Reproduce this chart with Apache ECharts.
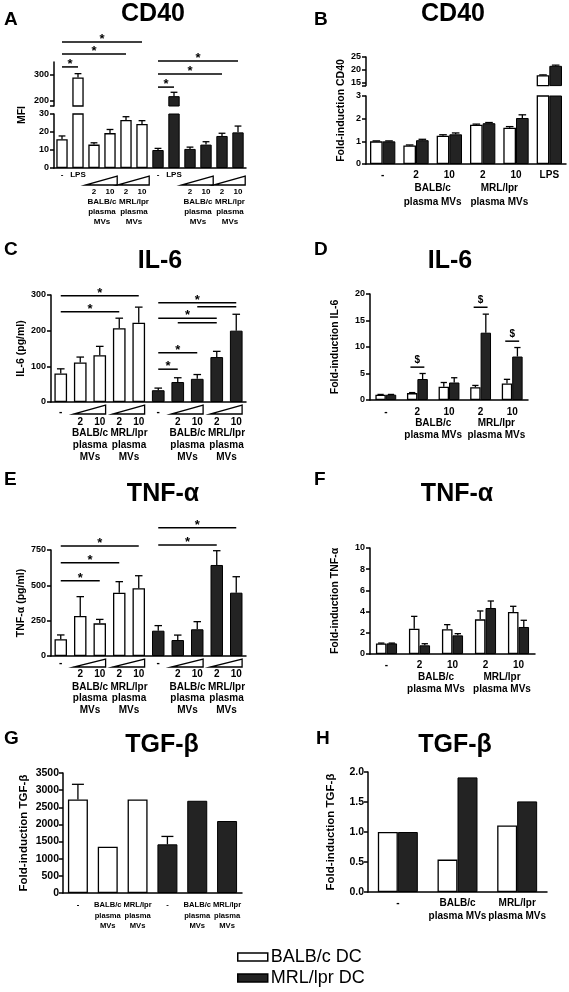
<!DOCTYPE html>
<html><head><meta charset="utf-8">
<script src="https://cdn.jsdelivr.net/npm/echarts@6/dist/echarts.min.js"></script>
<style>html,body{margin:0;padding:0;background:#fff}#c{width:569px;height:992px}</style>
</head><body><div id="c"></div>
<script>
// ================= DATA =================
// A — CD40 (MFI)
const aLabels = ['-', 'LPS', '2', '10', '2', '10', '-', 'LPS', '2', '10', '2', '10'];
const aBalb = [16, 290, 13, 19.4, 26.7, 24.5];
const aBalbErr = [1.8, 15, 1, 2, 1.8, 1.8];
const aMrl = [10, 218, 10.6, 13, 17.8, 19.8];
const aMrlErr = [0.9, 15, 1, 1.6, 1.5, 3.5];
const aGroupText = ['BALB/c\nplasma\nMVs', 'MRL/lpr\nplasma\nMVs', 'BALB/c\nplasma\nMVs', 'MRL/lpr\nplasma\nMVs'];
const aGroupCats = [[2, 3], [4, 5], [8, 9], [10, 11]];
const aSig = [[0, 1, 331], [0, 4, 381], [0, 5, 427], [6, 7, 253], [6, 10, 304], [6, 11, 354]];
const aSigText = ['*', '*', '*', '*', '*', '*'];
const aUpperTicks = [180, 200, 300];
const aUpperTickLabels = [200, 300];

// B — CD40 fold induction
const bLabels = ['-', '2', '10', '2', '10', 'LPS'];
const bBalb = [1.0, 0.82, 1.25, 1.73, 1.6, 18];
const bBalbErr = [0.02, 0.02, 0.04, 0.03, 0.05, 0.15];
const bMrl = [1.0, 1.05, 1.31, 1.8, 2.03, 21.6];
const bMrlErr = [0.02, 0.04, 0.06, 0.03, 0.14, 0.3];
const bGroupText = ['BALB/c\nplasma MVs', 'MRL/lpr\nplasma MVs'];
const bGroupCats = [[1, 2], [3, 4]];
const bUpperTicks = [14, 15, 20, 25];
const bUpperTickLabels = [15, 20, 25];

// C — IL-6 (pg/ml)
const cLabels = ['-', '2', '10', '2', '10', '-', '2', '10', '2', '10'];
const cBalb = [80, 111, 131, 207, 222];
const cBalbErr = [13, 15, 25, 28, 44];
const cMrl = [33, 56, 65, 126, 200];
const cMrlErr = [6, 12, 12, 16, 46];
const cGroupText = ['BALB/c\nplasma\nMVs', 'MRL/lpr\nplasma\nMVs', 'BALB/c\nplasma\nMVs', 'MRL/lpr\nplasma\nMVs'];
const cGroupCats = [[1, 2], [3, 4], [6, 7], [8, 9]];
const cSig = [[0, 4, 298], [0, 3, 253], [5, 9, 278], [7, 9, 267], [5, 8, 235], [6, 8, 222], [5, 7, 138], [5, 6, 92]];
const cSigText = ['*', '*', '*', '', '*', '', '*', '*'];

// D — IL-6 fold induction
const dLabels = ['-', '2', '10', '2', '10'];
const dBalb = [1, 1.3, 2.5, 2.4, 3.1];
const dBalbErr = [0.05, 0.1, 0.8, 0.35, 0.8];
const dMrl = [1, 3.96, 3.3, 12.7, 8.2];
const dMrlErr = [0.05, 1.04, 0.9, 3.5, 1.7];
const dGroupText = ['BALB/c\nplasma MVs', 'MRL/lpr\nplasma MVs'];
const dGroupCats = [[1, 2], [3, 4]];
const dSig = [[1, 1, 6.2], [3, 3, 17.5], [4, 4, 11.1]];
const dSigText = ['$', '$', '$'];

// E — TNF-α (pg/ml)
const eLabels = ['-', '2', '10', '2', '10', '-', '2', '10', '2', '10'];
const eBalb = [118, 283, 231, 448, 479];
const eBalbErr = [31, 137, 28, 78, 89];
const eMrl = [179, 113, 189, 644, 448];
const eMrlErr = [36, 35, 54, 101, 113];
const eGroupText = ['BALB/c\nplasma\nMVs', 'MRL/lpr\nplasma\nMVs', 'BALB/c\nplasma\nMVs', 'MRL/lpr\nplasma\nMVs'];
const eGroupCats = [[1, 2], [3, 4], [6, 7], [8, 9]];
const eSig = [[0, 2, 533], [0, 3, 660], [0, 4, 778], [5, 8, 786], [5, 9, 908]];
const eSigText = ['*', '*', '*', '*', '*'];

// F — TNF-α fold induction
const fLabels = ['-', '2', '10', '2', '10'];
const fBalb = [1, 2.39, 2.33, 3.27, 3.96];
const fBalbErr = [0.03, 1.16, 0.44, 0.79, 0.54];
const fMrl = [1, 0.82, 1.76, 4.34, 2.55];
const fMrlErr = [0.03, 0.15, 0.16, 0.66, 0.63];
const fGroupText = ['BALB/c\nplasma MVs', 'MRL/lpr\nplasma MVs'];
const fGroupCats = [[1, 2], [3, 4]];

// G — TGF-β
const gLabels = ['-', 'BALB/c\nplasma\nMVs', 'MRL/lpr\nplasma\nMVs', '-', 'BALB/c\nplasma\nMVs', 'MRL/lpr\nplasma\nMVs'];
const gBalb = [2730, 1350, 2730];
const gBalbErr = [440, null, null];
const gMrl = [1420, 2690, 2100];
const gMrlErr = [230, null, null];

// H — TGF-β fold induction
const hLabels = ['-', 'BALB/c\nplasma MVs', 'MRL/lpr\nplasma MVs'];
const hBalb = [1, 0.54, 1.11];
const hMrl = [1, 1.91, 1.51];

// ================= STYLE / BUILD =================
const FONT = '"Liberation Sans", Arial, Helvetica, sans-serif';
const INK = '#000';
const DARK = '#232323';
const WHITE_STYLE = { color: '#fff', borderColor: INK, borderWidth: 1.3 };
const BLACK_STYLE = { color: DARK, borderColor: INK, borderWidth: 1 };
const NAME_WHITE = 'BALB/c DC', NAME_BLACK = 'MRL/lpr DC';

const grids = [], xAxes = [], yAxes = [], series = [];

function addGrid(rect, cats, yOpt, opts) {
  opts = opts || {};
  const idx = grids.length;
  grids.push(Object.assign({ outerBoundsMode: 'none', containLabel: false }, rect));
  xAxes.push({
    gridIndex: idx, type: 'category', data: cats, show: opts.xShow !== false,
    axisLine: { show: true, onZero: false, lineStyle: { color: INK, width: 1.5 } },
    axisTick: { show: false }, axisLabel: { show: false }, splitLine: { show: false }
  });
  const y = {
    gridIndex: idx, type: 'value',
    axisLine: { show: opts.yLine !== false, lineStyle: { color: INK, width: 1.5 } },
    axisTick: { show: opts.yLine !== false, length: 4, lineStyle: { color: INK, width: 1.5 } },
    axisLabel: { show: opts.yLine !== false, color: INK, fontSize: 9, fontWeight: 'bold', fontFamily: FONT, margin: 5, formatter: v => String(v) },
    splitLine: { show: false },
    nameLocation: 'middle', nameRotate: 90,
    nameTextStyle: { color: INK, fontSize: 10.5, fontWeight: 'bold', fontFamily: FONT }
  };
  for (const k in yOpt) {
    if (k === 'axisTick' || k === 'axisLabel' || k === 'nameTextStyle') Object.assign(y[k], yOpt[k]);
    else y[k] = yOpt[k];
  }
  yAxes.push(y);
  return idx;
}

function barsSplit(gi, white, black, gap) {
  const w = white.concat(black.map(() => null));
  const b = white.map(() => null).concat(black);
  series.push({ type: 'bar', name: NAME_WHITE, xAxisIndex: gi, yAxisIndex: gi, data: w, barGap: '-100%', barCategoryGap: gap, itemStyle: WHITE_STYLE, silent: true, clip: true, z: 2 });
  series.push({ type: 'bar', name: NAME_BLACK, xAxisIndex: gi, yAxisIndex: gi, data: b, barGap: '-100%', barCategoryGap: gap, itemStyle: BLACK_STYLE, silent: true, clip: true, z: 2 });
}
function barsGroup(gi, white, black, gap) {
  series.push({ type: 'bar', name: NAME_WHITE, xAxisIndex: gi, yAxisIndex: gi, data: white, barGap: '0%', barCategoryGap: gap, itemStyle: WHITE_STYLE, silent: true, clip: true, z: 2 });
  series.push({ type: 'bar', name: NAME_BLACK, xAxisIndex: gi, yAxisIndex: gi, data: black, barGap: '0%', barCategoryGap: gap, itemStyle: BLACK_STYLE, silent: true, clip: true, z: 2 });
}
function errBars(gi, vals, errs, catOffset, side, gapPct, nPer) {
  const gap = gapPct / 100;
  const data = [];
  vals.forEach((v, i) => { if (errs[i] != null) data.push([i + catOffset, v, errs[i]]); });
  series.push({
    type: 'custom', xAxisIndex: gi, yAxisIndex: gi, clip: true, silent: true, z: 3, data,
    encode: { x: 0, y: 1 },
    renderItem(params, api) {
      const c = api.value(0), v = api.value(1), e = api.value(2);
      const band = api.size([1, 0])[0];
      const bw = band * (1 - gap) / nPer;
      const p0 = api.coord([c, v]), p1 = api.coord([c, v + e]);
      const x = p0[0] + side * bw / 2;
      const hc = Math.min(bw * 0.3, 7);
      return {
        type: 'group', children: [
          { type: 'line', shape: { x1: x, y1: p0[1], x2: x, y2: p1[1] }, style: { stroke: INK, lineWidth: 1.3 } },
          { type: 'line', shape: { x1: x - hc, y1: p1[1], x2: x + hc, y2: p1[1] }, style: { stroke: INK, lineWidth: 1.3 } }
        ]
      };
    }
  });
}
function sigBars(gi, items, texts, sideOff, fs, lift) {
  series.push({
    type: 'custom', xAxisIndex: gi, yAxisIndex: gi, clip: false, silent: true, z: 4,
    data: items.map(s => [s[0], s[2], s[1]]), encode: { x: 0, y: 1 },
    renderItem(params, api) {
      const a = api.value(0), lvl = api.value(1), b = api.value(2);
      const band = api.size([1, 0])[0];
      const pa = api.coord([a, lvl]), pb = api.coord([b, lvl]);
      const xa = pa[0] - sideOff * band, xb = pb[0] + sideOff * band;
      return {
        type: 'group', children: [
          { type: 'line', shape: { x1: xa, y1: pa[1], x2: xb, y2: pa[1] }, style: { stroke: INK, lineWidth: 1.5 } },
          { type: 'text', style: { text: texts[params.dataIndex], x: (xa + xb) / 2, y: pa[1] + lift, align: 'center', verticalAlign: 'bottom', font: 'bold ' + fs + 'px ' + FONT, fill: INK } }
        ]
      };
    }
  });
}
function textRow(gi, cats, texts, dy, fs, lh) {
  series.push({
    type: 'custom', xAxisIndex: gi, yAxisIndex: gi, clip: false, silent: true, z: 4,
    data: cats.map(c => [c[0], 0, c[1]]), encode: { x: 0, y: 1 },
    renderItem(params, api) {
      const pa = api.coord([api.value(0), 0]), pb = api.coord([api.value(2), 0]);
      return { type: 'text', style: { text: texts[params.dataIndex], x: (pa[0] + pb[0]) / 2, y: pa[1] + dy, align: 'center', verticalAlign: 'top', font: 'bold ' + fs + 'px ' + FONT, lineHeight: lh, fill: INK } };
    }
  });
}
function wedges(gi, cats, dyTop, dyBot, lOff, rOff) {
  series.push({
    type: 'custom', xAxisIndex: gi, yAxisIndex: gi, clip: false, silent: true, z: 4,
    data: cats.map(c => [c[0], 0, c[1]]), encode: { x: 0, y: 1 },
    renderItem(params, api) {
      const band = api.size([1, 0])[0];
      const pa = api.coord([api.value(0), 0]), pb = api.coord([api.value(2), 0]);
      const x1 = pa[0] - lOff * band, x2 = pb[0] + rOff * band, y = pa[1];
      return { type: 'polygon', shape: { points: [[x1, y + dyBot], [x2, y + dyBot], [x2, y + dyTop]] }, style: { fill: 'none', stroke: INK, lineWidth: 1.3 } };
    }
  });
}
function labelRows(labels, pred) {
  const cats = [], texts = [];
  labels.forEach((l, i) => { if (pred(l)) { cats.push([i, i]); texts.push(l); } });
  return { cats, texts };
}
const isNum = l => l === '2' || l === '10';

// ---------- Panel A ----------
const A_GAP = 29;
const aU = addGrid({ left: 54, top: 62, width: 192, height: 44 }, aLabels,
  { min: 180, max: 350, axisTick: { customValues: aUpperTicks }, axisLabel: { customValues: aUpperTickLabels } }, { xShow: false });
const aL = addGrid({ left: 54, top: 114, width: 192, height: 54 }, aLabels, { min: 0, max: 30, interval: 10 });
const aN = addGrid({ left: 54, top: 62, width: 192, height: 106 }, aLabels, { min: 0, max: 1, name: 'MFI', nameGap: 26 }, { xShow: false, yLine: false });
[aU, aL].forEach(g => {
  barsSplit(g, aBalb, aMrl, A_GAP + '%');
  errBars(g, aBalb, aBalbErr, 0, 0, A_GAP, 1);
  errBars(g, aMrl, aMrlErr, aBalb.length, 0, A_GAP, 1);
});
sigBars(aU, aSig, aSigText, 0, 13, 4);
(function () {
  const r1 = labelRows(aLabels, l => !isNum(l)), r2 = labelRows(aLabels, isNum);
  textRow(aL, r1.cats, r1.texts, 2, 8, 10);
  textRow(aL, r2.cats, r2.texts, 19, 8, 10);
  textRow(aL, aGroupCats, aGroupText, 29, 8, 10);
  wedges(aL, aGroupCats, 8, 17, 0.55, 0.45);
})();

// ---------- Panel B ----------
const B_GAP = 24;
const bU = addGrid({ left: 366, top: 57, width: 200, height: 28.6 }, bLabels,
  { min: 14, max: 25, axisTick: { customValues: bUpperTicks }, axisLabel: { customValues: bUpperTickLabels } }, { xShow: false });
const bL = addGrid({ left: 366, top: 96, width: 200, height: 68 }, bLabels, { min: 0, max: 3, interval: 1 });
const bN = addGrid({ left: 366, top: 57, width: 200, height: 107 }, bLabels, { min: 0, max: 1, name: 'Fold-induction CD40', nameGap: 19 }, { xShow: false, yLine: false });
[bU, bL].forEach(g => {
  barsGroup(g, bBalb, bMrl, B_GAP + '%');
  errBars(g, bBalb, bBalbErr, 0, -1, B_GAP, 2);
  errBars(g, bMrl, bMrlErr, 0, 1, B_GAP, 2);
});
textRow(bL, bLabels.map((l, i) => [i, i]), bLabels, 4, 10, 14);
textRow(bL, bGroupCats, bGroupText, 17, 10, 14);

// ---------- Panel C ----------
const C_GAP = 35;
const cG = addGrid({ left: 51, top: 295, width: 195, height: 107 }, cLabels, { min: 0, max: 300, interval: 100, name: 'IL-6 (pg/ml)', nameGap: 24 });
barsSplit(cG, cBalb, cMrl, C_GAP + '%');
errBars(cG, cBalb, cBalbErr, 0, 0, C_GAP, 1);
errBars(cG, cMrl, cMrlErr, cBalb.length, 0, C_GAP, 1);
sigBars(cG, cSig, cSigText, 0, 13, 4);
(function () {
  const r1 = labelRows(cLabels, l => !isNum(l)), r2 = labelRows(cLabels, isNum);
  textRow(cG, r1.cats, r1.texts, 4, 10, 12);
  textRow(cG, r2.cats, r2.texts, 14, 10, 12);
  textRow(cG, cGroupCats, cGroupText, 25, 10, 12);
  wedges(cG, cGroupCats, 3, 12, 0.35, 0.3);
})();

// ---------- Panel D ----------
const D_GAP = 34;
const dG = addGrid({ left: 370, top: 294, width: 158, height: 106 }, dLabels, { min: 0, max: 20, interval: 5, name: 'Fold-induction IL-6', nameGap: 29 });
barsGroup(dG, dBalb, dMrl, D_GAP + '%');
errBars(dG, dBalb, dBalbErr, 0, -1, D_GAP, 2);
errBars(dG, dMrl, dMrlErr, 0, 1, D_GAP, 2);
sigBars(dG, dSig, dSigText, 0.22, 10, -2);
textRow(dG, dLabels.map((l, i) => [i, i]), dLabels, 6, 10, 12);
textRow(dG, dGroupCats, dGroupText, 17, 10, 12);

// ---------- Panel E ----------
const E_GAP = 36;
const eG = addGrid({ left: 51, top: 550, width: 195, height: 106 }, eLabels, { min: 0, max: 750, interval: 250, name: 'TNF-α (pg/ml)', nameGap: 23 });
barsSplit(eG, eBalb, eMrl, E_GAP + '%');
errBars(eG, eBalb, eBalbErr, 0, 0, E_GAP, 1);
errBars(eG, eMrl, eMrlErr, eBalb.length, 0, E_GAP, 1);
sigBars(eG, eSig, eSigText, 0, 13, 4);
(function () {
  const r1 = labelRows(eLabels, l => !isNum(l)), r2 = labelRows(eLabels, isNum);
  textRow(eG, r1.cats, r1.texts, 1.5, 10, 11);
  textRow(eG, r2.cats, r2.texts, 12.5, 10, 11);
  textRow(eG, eGroupCats, eGroupText, 25, 10, 11.5);
  wedges(eG, eGroupCats, 3, 11, 0.35, 0.3);
})();

// ---------- Panel F ----------
const F_GAP = 36;
const fG = addGrid({ left: 370, top: 548, width: 165, height: 106 }, fLabels, { min: 0, max: 10, interval: 2, name: 'Fold-induction TNF-α', nameGap: 29 });
barsGroup(fG, fBalb, fMrl, F_GAP + '%');
errBars(fG, fBalb, fBalbErr, 0, -1, F_GAP, 2);
errBars(fG, fMrl, fMrlErr, 0, 1, F_GAP, 2);
textRow(fG, fLabels.map((l, i) => [i, i]), fLabels, 5, 10, 12);
textRow(fG, fGroupCats, fGroupText, 17, 10, 12);

// ---------- Panel G ----------
const G_GAP = 33;
const gG = addGrid({ left: 63, top: 773, width: 179, height: 120 }, gLabels,
  { min: 0, max: 3500, interval: 500, name: 'Fold-induction TGF-β', nameGap: 33, axisLabel: { fontSize: 10.5, margin: 4 }, nameTextStyle: { fontSize: 11.5 } });
barsSplit(gG, gBalb, gMrl, G_GAP + '%');
errBars(gG, gBalb, gBalbErr, 0, 0, G_GAP, 1);
errBars(gG, gMrl, gMrlErr, gBalb.length, 0, G_GAP, 1);
textRow(gG, gLabels.map((l, i) => [i, i]), gLabels, 7, 7.6, 10.5);

// ---------- Panel H ----------
const H_GAP = 33;
const hG = addGrid({ left: 368, top: 772, width: 179, height: 120 }, hLabels,
  { min: 0, max: 2, interval: 0.5, name: 'Fold-induction TGF-β', nameGap: 31, axisLabel: { fontSize: 10.5, margin: 4, formatter: v => v.toFixed(1) }, nameTextStyle: { fontSize: 11.5 } });
barsGroup(hG, hBalb, hMrl, H_GAP + '%');
textRow(hG, hLabels.map((l, i) => [i, i]), hLabels, 4.5, 10, 13);

// ---------- titles ----------
const T = (text, left, top, size, center) => ({
  text, left, top, padding: 0, textAlign: center ? 'center' : 'left',
  textStyle: { fontSize: size, fontWeight: 'bold', fontFamily: FONT, color: INK }
});
const titles = [
  T('A', 4, 10, 19), T('CD40', 153, 2, 25, true),
  T('B', 314, 10, 19), T('CD40', 453, 2, 25, true),
  T('C', 4, 240, 19), T('IL-6', 160, 249, 25, true),
  T('D', 314, 240, 19), T('IL-6', 450, 249, 25, true),
  T('E', 4, 470, 19), T('TNF-α', 163, 482, 25, true),
  T('F', 314, 470, 19), T('TNF-α', 457, 482, 25, true),
  T('G', 4, 729, 19), T('TGF-β', 162, 733, 25, true),
  T('H', 316, 729, 19), T('TGF-β', 455, 733, 25, true)
];

const chart = echarts.init(document.getElementById('c'), null, { renderer: 'canvas' });
chart.setOption({
  backgroundColor: '#fff',
  animation: false,
  title: titles,
  legend: {
    data: [NAME_WHITE, NAME_BLACK], orient: 'vertical', left: 237, top: 948,
    itemWidth: 30, itemHeight: 8, itemGap: 3, selectedMode: false, icon: 'rect', padding: 0,
    itemStyle: { borderColor: INK, borderWidth: 1.5 },
    textStyle: { fontSize: 18, fontFamily: FONT, color: INK, padding: [0, 0, 0, -2] }
  },
  grid: grids, xAxis: xAxes, yAxis: yAxes, series
});
</script></body></html>
